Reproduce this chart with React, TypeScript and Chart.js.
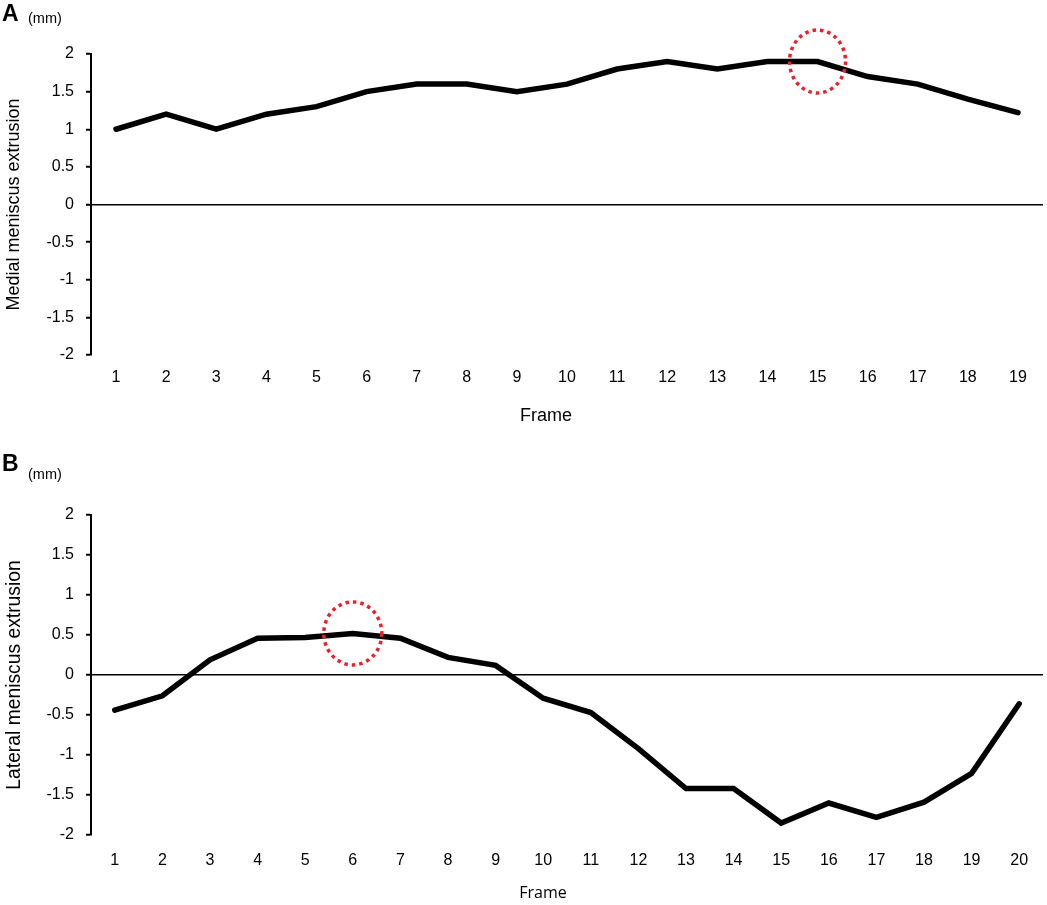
import React, { useEffect, useRef } from "react";
import { Chart, registerables } from "chart.js";

Chart.register(...registerables);

// ---------- data ----------
const framesA = ["1", "2", "3", "4", "5", "6", "7", "8", "9", "10", "11", "12", "13", "14", "15", "16", "17", "18", "19"];
const medialExtrusion = [1.0, 1.2, 1.0, 1.2, 1.3, 1.5, 1.6, 1.6, 1.5, 1.6, 1.8, 1.9, 1.8, 1.9, 1.9, 1.7, 1.6, 1.4, 1.22];

const framesB = ["1", "2", "3", "4", "5", "6", "7", "8", "9", "10", "11", "12", "13", "14", "15", "16", "17", "18", "19", "20"];
const lateralExtrusion = [-0.44, -0.26, 0.19, 0.46, 0.47, 0.52, 0.46, 0.22, 0.12, -0.29, -0.47, -0.92, -1.42, -1.42, -1.85, -1.6, -1.78, -1.59, -1.23, -0.36];

const yMin = -2;
const yMax = 2;
const yStep = 0.5;

const markedFrameA = 15; // circled frame in A
const markedFrameB = 6; // circled frame in B

const FONT = "'Liberation Sans', Arial, sans-serif";

type PanelProps = {
  top: number;
  height: number;
  letter: string;
  labels: string[];
  values: number[];
  markedFrame: number;
  yTitle: string;
  yTitleSize: number;
  padTop: number;
  xAxisHeight: number;
  xTickPad: number;
  frameFont: string;
  frameSize: number;
  frameX: number;
  frameY: number;
  letterY: number;
  mmY: number;
  ellipse: [number, number];
};

function Panel(p: PanelProps) {
  const ref = useRef<HTMLCanvasElement | null>(null);
  useEffect(() => {
    if (!ref.current) return;
    const idx = p.labels.indexOf(String(p.markedFrame));
    const decor = {
      id: "decor",
      afterDatasetsDraw(chart: any) {
        const ctx = chart.ctx;
        const x = chart.scales.x.getPixelForValue(idx);
        const y = chart.scales.y.getPixelForValue(p.values[idx]);
        ctx.save();
        ctx.strokeStyle = "#e8212b";
        ctx.lineWidth = 3.5;
        ctx.setLineDash([3.5, 4]);
        ctx.beginPath();
        ctx.ellipse(x, y, p.ellipse[0], p.ellipse[1], 0, 0, Math.PI * 2);
        ctx.stroke();
        ctx.restore();
      },
      afterDraw(chart: any) {
        const ctx = chart.ctx;
        ctx.save();
        ctx.fillStyle = "#000";
        ctx.textBaseline = "middle";
        ctx.textAlign = "left";
        ctx.font = `bold 23px ${FONT}`;
        ctx.fillText(p.letter, 2, p.letterY);
        ctx.font = `14.5px ${FONT}`;
        ctx.fillText("(mm)", 28, p.mmY);
        ctx.textAlign = "center";
        ctx.font = `${p.frameSize}px ${p.frameFont}`;
        ctx.fillText("Frame", p.frameX, p.frameY);
        ctx.restore();
      },
    };
    const chart = new Chart(ref.current, {
      type: "line",
      data: {
        labels: p.labels,
        datasets: [
          {
            data: p.values,
            borderColor: "#000",
            borderWidth: 5.5,
            pointRadius: 0,
            borderCapStyle: "round",
            borderJoinStyle: "miter",
            tension: 0,
          },
        ],
      },
      options: {
        animation: false,
        responsive: true,
        maintainAspectRatio: false,
        layout: { padding: { top: p.padTop, left: 0, right: 4, bottom: 0 } },
        plugins: { legend: { display: false }, tooltip: { enabled: false } },
        scales: {
          x: {
            offset: true,
            grid: { display: false, drawTicks: false },
            border: { display: false },
            ticks: {
              color: "#000",
              padding: p.xTickPad,
              font: { family: FONT, size: 16 },
              maxRotation: 0,
              autoSkip: false,
            },
            afterFit(scale: any) {
              scale.height = p.xAxisHeight;
            },
          },
          y: {
            min: yMin,
            max: yMax,
            grid: {
              color: (c: any) => (c.tick && c.tick.value === 0 ? "#000" : "rgba(0,0,0,0)"),
              lineWidth: 1.5,
              tickColor: "#000",
              tickLength: 5,
              tickWidth: 2,
            },
            border: { display: true, color: "#000", width: 2 },
            ticks: {
              stepSize: yStep,
              color: "#000",
              padding: 12,
              font: { family: FONT, size: 16 },
              callback: (v: any) => String(v),
            },
            title: {
              display: true,
              text: p.yTitle,
              color: "#000",
              font: { family: FONT, size: p.yTitleSize },
              padding: { top: 3, bottom: 0 },
            },
            afterFit(scale: any) {
              scale.width = 91;
            },
          },
        },
      },
      plugins: [decor],
    } as any);
    return () => chart.destroy();
  }, []);
  return (
    <div style={{ position: "absolute", left: 0, top: p.top, width: 1047, height: p.height }}>
      <canvas ref={ref} />
    </div>
  );
}

export default function App() {
  return (
    <div style={{ position: "absolute", left: 0, top: 0, width: 1047, height: 905, background: "#fff" }}>
      <Panel
        top={0}
        height={440}
        letter="A"
        labels={framesA}
        values={medialExtrusion}
        markedFrame={markedFrameA}
        yTitle="Medial meniscus extrusion"
        yTitleSize={18}
        padTop={54}
        xAxisHeight={85}
        xTickPad={13}
        frameFont={FONT}
        frameSize={18}
        frameX={546}
        frameY={416}
        letterY={15}
        mmY={19}
        ellipse={[28, 31.5]}
      />
      <Panel
        top={440}
        height={465}
        letter="B"
        labels={framesB}
        values={lateralExtrusion}
        markedFrame={markedFrameB}
        yTitle="Lateral meniscus extrusion"
        yTitleSize={19.3}
        padTop={75}
        xAxisHeight={70}
        xTickPad={16}
        frameFont={"'Open Sans', 'Noto Sans', sans-serif"}
        frameSize={16}
        frameX={543}
        frameY={453}
        letterY={25}
        mmY={35}
        ellipse={[29, 31.5]}
      />
    </div>
  );
}
